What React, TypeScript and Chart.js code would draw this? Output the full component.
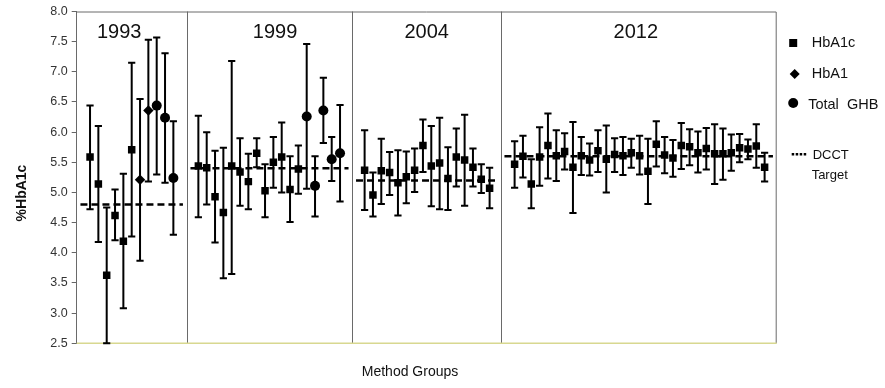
import React, { useEffect, useRef } from 'react';
import { Chart, registerables } from 'chart.js';

Chart.register(...registerables);

const FONT = 'Arial, "Liberation Sans", Helvetica, sans-serif';

// Method groups (panels)
const groupLabels = ['1993', '1999', '2004', '2012'];
const groupStarts = [1.6, 14.6, 34.55, 52.55];
const groupBounds = [0, 13.2, 33.07, 50.88, 84];
const groupLabelX = [5.1, 23.8, 42.0, 67.1];
const dcctTargets = [4.8, 5.4, 5.2, 5.6];

// method codes: c = HbA1c, a = HbA1, g = Total GHB
const m1993 = ['c', 'c', 'c', 'c', 'c', 'c', 'a', 'a', 'g', 'g', 'g'];
const v1993 = [5.59, 5.14, 3.63, 4.62, 4.19, 5.71, 5.21, 6.36, 6.44, 6.24, 5.24];
const hi1993 = [6.44, 6.10, 4.75, 5.05, 5.31, 7.15, 6.55, 7.53, 7.57, 7.31, 6.18];
const lo1993 = [4.72, 4.18, 2.50, 4.21, 3.08, 4.27, 3.87, 5.18, 5.30, 5.16, 4.30];

const m1999 = ['c', 'c', 'c', 'c', 'c', 'c', 'c', 'c', 'c', 'c', 'c', 'c', 'c', 'g', 'g', 'g', 'g', 'g'];
const v1999 = [5.44, 5.41, 4.93, 4.67, 5.44, 5.34, 5.18, 5.65, 5.03, 5.50, 5.59, 5.05, 5.39, 6.26, 5.11, 6.36, 5.55, 5.65];
const hi1999 = [6.27, 6.00, 5.69, 5.74, 7.18, 5.90, 5.64, 5.90, 5.47, 5.92, 6.16, 5.60, 5.78, 7.46, 5.60, 6.90, 5.92, 6.45];
const lo1999 = [4.59, 4.80, 4.17, 3.58, 3.65, 4.78, 4.72, 5.42, 4.59, 5.08, 5.00, 4.51, 4.98, 5.06, 4.60, 5.82, 5.19, 4.85];

const m2004 = ['c', 'c', 'c', 'c', 'c', 'c', 'c', 'c', 'c', 'c', 'c', 'c', 'c', 'c', 'c', 'c'];
const v2004 = [5.37, 4.96, 5.36, 5.33, 5.16, 5.26, 5.37, 5.78, 5.44, 5.49, 5.23, 5.59, 5.54, 5.42, 5.22, 5.07];
const hi2004 = [6.03, 5.33, 5.89, 5.67, 5.70, 5.68, 5.73, 6.21, 6.10, 6.24, 5.75, 6.06, 6.29, 5.73, 5.47, 5.41];
const lo2004 = [4.71, 4.60, 4.81, 4.96, 4.62, 4.82, 5.01, 5.34, 4.77, 4.72, 4.71, 5.10, 4.78, 5.10, 4.99, 4.74];

const m2012 = ['c', 'c', 'c', 'c', 'c', 'c', 'c', 'c', 'c', 'c', 'c', 'c', 'c', 'c', 'c', 'c',
  'c', 'c', 'c', 'c', 'c', 'c', 'c', 'c', 'c', 'c', 'c', 'c', 'c', 'c', 'c'];
const v2012 = [5.47, 5.60, 5.14, 5.59, 5.78, 5.61, 5.68, 5.42, 5.61, 5.54, 5.69, 5.55, 5.63, 5.61, 5.66, 5.61,
  5.35, 5.80, 5.62, 5.57, 5.78, 5.76, 5.66, 5.73, 5.64, 5.64, 5.66, 5.74, 5.72, 5.77, 5.42];
const hi2012 = [5.85, 5.94, 5.55, 6.08, 6.31, 6.03, 5.98, 6.17, 5.92, 5.81, 6.03, 6.11, 5.90, 5.92, 5.89, 5.94,
  5.89, 6.18, 5.92, 5.87, 6.15, 6.05, 6.01, 6.07, 6.13, 6.06, 5.96, 5.97, 5.88, 6.13, 5.66];
const lo2012 = [5.08, 5.25, 4.74, 5.11, 5.23, 5.19, 5.38, 4.66, 5.29, 5.28, 5.34, 5.00, 5.34, 5.29, 5.41, 5.30,
  4.81, 5.43, 5.32, 5.26, 5.39, 5.45, 5.33, 5.38, 5.14, 5.21, 5.36, 5.50, 5.55, 5.41, 5.18];

const yTicks = [2.5, 3.0, 3.5, 4.0, 4.5, 5.0, 5.5, 6.0, 6.5, 7.0, 7.5, 8.0];

const groups = [
  { methods: m1993, values: v1993, hi: hi1993, lo: lo1993 },
  { methods: m1999, values: v1999, hi: hi1999, lo: lo1999 },
  { methods: m2004, values: v2004, hi: hi2004, lo: lo2004 },
  { methods: m2012, values: v2012, hi: hi2012, lo: lo2012 },
];

type Pt = { x: number; y: number; lo: number; hi: number };

function buildPoints(code: string): Pt[] {
  const out: Pt[] = [];
  groups.forEach((g, gi) => {
    g.values.forEach((v, i) => {
      if (g.methods[i] === code) out.push({ x: groupStarts[gi] + i, y: v, lo: g.lo[i], hi: g.hi[i] });
    });
  });
  return out;
}

const errorBarsPlugin = {
  id: 'errorBars',
  beforeDatasetsDraw(chart: any) {
    const { ctx } = chart;
    const xs = chart.scales.x;
    const ys = chart.scales.y;
    const area = chart.chartArea;
    ctx.save();
    // panel frame
    ctx.strokeStyle = '#6a6a6a';
    ctx.lineWidth = 1;
    ctx.beginPath();
    ctx.moveTo(area.left, area.top + 0.5);
    ctx.lineTo(area.right - 0.5, area.top + 0.5);
    ctx.lineTo(area.right - 0.5, area.bottom);
    for (let i = 1; i < groupBounds.length - 1; i++) {
      const px = Math.round(xs.getPixelForValue(groupBounds[i])) + 0.5;
      ctx.moveTo(px, area.top);
      ctx.lineTo(px, area.bottom);
    }
    ctx.stroke();
    ctx.strokeStyle = '#d8d890';
    ctx.lineWidth = 1.5;
    ctx.beginPath();
    ctx.moveTo(area.left, area.bottom);
    ctx.lineTo(area.right, area.bottom);
    ctx.stroke();

    // panel labels
    ctx.fillStyle = '#111';
    ctx.font = `20px ${FONT}`;
    ctx.textAlign = 'center';
    ctx.textBaseline = 'middle';
    groupLabels.forEach((lab, i) => {
      ctx.fillText(lab, xs.getPixelForValue(groupLabelX[i]), ys.getPixelForValue(7.65));
    });

    // error bars
    ctx.strokeStyle = '#000';
    ctx.lineWidth = 2;
    chart.data.datasets.forEach((ds: any) => {
      if (ds.showLine) return;
      ds.data.forEach((p: Pt) => {
        const px = xs.getPixelForValue(p.x);
        const top = ys.getPixelForValue(p.hi);
        const bot = ys.getPixelForValue(p.lo);
        ctx.beginPath();
        ctx.moveTo(px, top);
        ctx.lineTo(px, bot);
        ctx.moveTo(px - 3.6, top);
        ctx.lineTo(px + 3.6, top);
        ctx.moveTo(px - 3.6, bot);
        ctx.lineTo(px + 3.6, bot);
        ctx.stroke();
      });
    });
    ctx.restore();
  },
  afterDraw(chart: any) {
    const { ctx } = chart;
    const area = chart.chartArea;
    ctx.save();
    ctx.fillStyle = '#111';
    // y title
    ctx.font = `bold 14px ${FONT}`;
    ctx.textAlign = 'center';
    ctx.textBaseline = 'middle';
    ctx.save();
    ctx.translate(22, 193);
    ctx.rotate(-Math.PI / 2);
    ctx.fillText('%HbA1c', 0, 0);
    ctx.restore();
    // x title
    ctx.font = `14px ${FONT}`;
    ctx.fillText('Method Groups', 410, 372);

    // legend
    const lx = area.right;
    ctx.fillStyle = '#000';
    ctx.fillRect(lx + 12.5, 39, 8, 8);
    ctx.beginPath();
    ctx.moveTo(lx + 18, 69);
    ctx.lineTo(lx + 23, 74);
    ctx.lineTo(lx + 18, 79);
    ctx.lineTo(lx + 13, 74);
    ctx.closePath();
    ctx.fill();
    ctx.beginPath();
    ctx.arc(lx + 16.5, 103, 5, 0, Math.PI * 2);
    ctx.fill();
    for (let i = 0; i < 4; i++) {
      ctx.fillRect(lx + 15 + i * 4, 153, 2.5, 2.5);
    }
    ctx.fillStyle = '#111';
    ctx.font = `14.5px ${FONT}`;
    ctx.textAlign = 'left';
    ctx.fillText('HbA1c', lx + 35, 43);
    ctx.fillText('HbA1', lx + 35, 74);
    ctx.fillText('Total  GHB', lx + 31.5, 105);
    ctx.font = `13px ${FONT}`;
    ctx.textAlign = 'center';
    ctx.fillText('DCCT', lx + 54, 155);
    ctx.fillText('Target', lx + 53, 175);
    ctx.restore();
  },
};

export default function App() {
  const ref = useRef<HTMLCanvasElement | null>(null);
  useEffect(() => {
    if (!ref.current) return;
    const targetSets = dcctTargets.map((t, i) => ({
      label: 'DCCT Target ' + groupLabels[i],
      data: [
        { x: groupBounds[i] + 0.45, y: t },
        { x: groupBounds[i + 1] - 0.45, y: t },
      ],
      showLine: true,
      borderColor: '#000',
      borderWidth: 2.5,
      borderDash: [7, 4],
      pointRadius: 0,
      order: 2,
    }));
    const chart = new Chart(ref.current, {
      type: 'scatter',
      data: {
        datasets: [
          {
            label: 'HbA1c',
            data: buildPoints('c'),
            pointStyle: 'rect',
            pointRadius: 5.3,
            backgroundColor: '#000',
            borderColor: '#000',
            borderWidth: 0,
            order: 0,
          },
          {
            label: 'HbA1',
            data: buildPoints('a'),
            pointStyle: 'rectRot',
            pointRadius: 5.2,
            backgroundColor: '#000',
            borderColor: '#000',
            borderWidth: 0,
            order: 0,
          },
          {
            label: 'Total GHB',
            data: buildPoints('g'),
            pointStyle: 'circle',
            pointRadius: 5,
            backgroundColor: '#000',
            borderColor: '#000',
            borderWidth: 0,
            order: 0,
          },
          ...targetSets,
        ] as any,
      },
      options: {
        animation: false,
        responsive: false,
        devicePixelRatio: 1,
        layout: { padding: { left: 0, top: 10.7, right: 108.3, bottom: 44.7 } },
        plugins: { legend: { display: false }, tooltip: { enabled: false } },
        scales: {
          x: { type: 'linear', min: groupBounds[0], max: groupBounds[groupBounds.length - 1], display: false },
          y: {
            min: yTicks[0],
            max: yTicks[yTicks.length - 1],
            afterBuildTicks: (s: any) => {
              s.ticks = yTicks.map((v) => ({ value: v }));
            },
            afterFit: (s: any) => {
              s.width = 76.7;
            },
            ticks: {
              callback: (v: any) => Number(v).toFixed(1),
              color: '#333',
              font: { family: FONT, size: 12.5 },
              padding: 4,
            },
            grid: { drawOnChartArea: false, drawTicks: true, tickLength: 5, color: '#666' },
            border: { color: '#6a6a6a', width: 1 },
          },
        },
      } as any,
      plugins: [errorBarsPlugin],
    });
    return () => chart.destroy();
  }, []);
  return (
    <div style={{ position: 'fixed', left: 0, top: 0, width: 885, height: 388, background: '#fff' }}>
      <canvas ref={ref} width={885} height={388} style={{ width: 885, height: 388, display: 'block' }} />
    </div>
  );
}
